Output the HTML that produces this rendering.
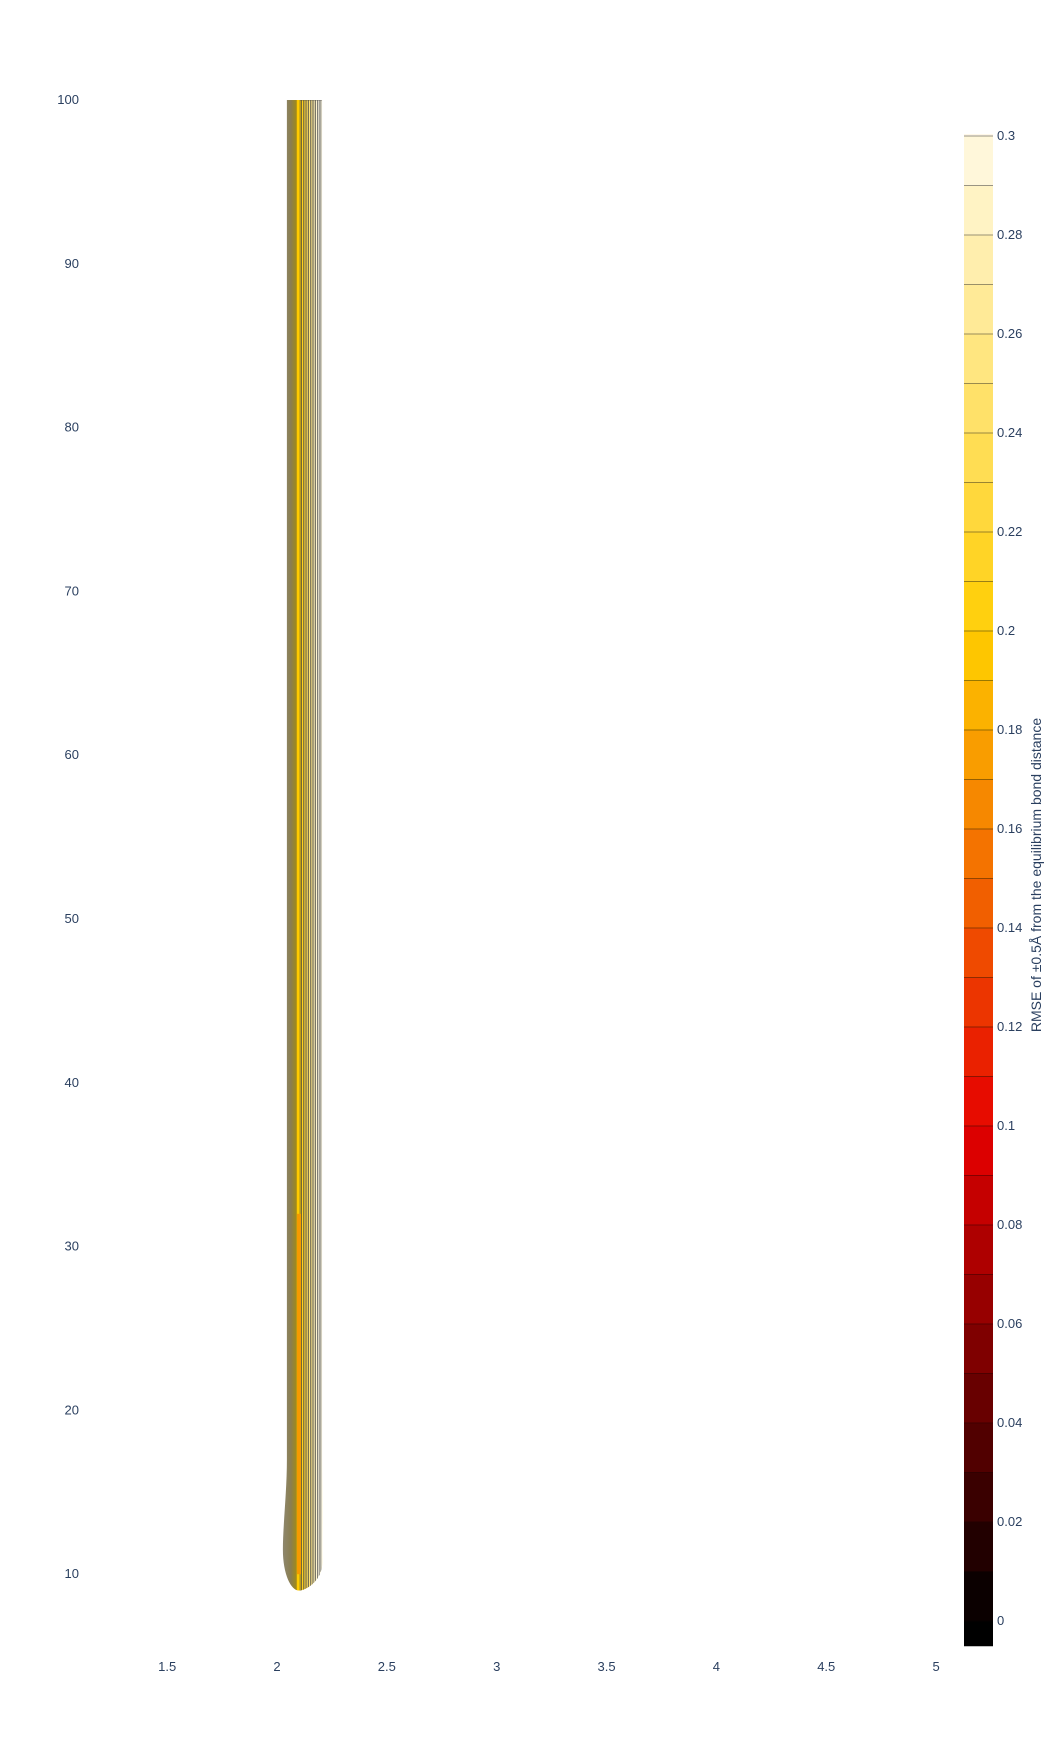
<!DOCTYPE html>
<html><head><meta charset="utf-8"><style>
body{margin:0;background:#fff;}
svg{font-family:"Liberation Sans",sans-serif;}
</style></head><body>
<svg id="chart" width="1064" height="1736" xmlns="http://www.w3.org/2000/svg"></svg>
<script>
const xTicks=[1.5,2,2.5,3,3.5,4,4.5,5];
const yTicks=[10,20,30,40,50,60,70,80,90,100];
const cbTicks=[0,0.02,0.04,0.06,0.08,0.1,0.12,0.14,0.16,0.18,0.2,0.22,0.24,0.26,0.28,0.3];
// contour stripes to the right of the valley (x position, level value)
const stripeX=[2.105,2.112,2.12,2.128,2.136,2.144,2.152,2.16,2.168,2.176,2.184,2.192,2.2];
const stripeV=[0.2,0.21,0.22,0.23,0.24,0.25,0.26,0.27,0.28,0.29,0.3,0.3,0.3];
const valleyX=2.1, leftX=2.045, rightX=2.205, yMinShape=9, yTop=100;
const NS="http://www.w3.org/2000/svg";
const svg=document.getElementById('chart');
const px=x=>277+(x-2)*219.7;
const py=y=>100+(100-y)*16.38;
const cy=v=>1621-v*4950;
function hot(v){const t=Math.max(0,Math.min(1,v/0.3));
 let r,g,b;
 if(t<0.33){r=t/0.33*230;g=0;b=0;}
 else if(t<0.66){r=230+(t-0.33)/0.33*25;g=(t-0.33)/0.33*205;b=0;}
 else {r=255;g=205+(t-0.66)/0.34*45;b=(t-0.66)/0.34*230;}
 return `rgb(${r|0},${g|0},${b|0})`;}
function mk(tag,attrs,name,txt){const e=document.createElementNS(NS,tag);for(const k in attrs)e.setAttribute(k,attrs[k]);
 
 
 if(txt!==undefined)e.textContent=txt;svg.appendChild(e);return e;}
xTicks.forEach(t=>mk('text',{x:px(t),y:1671,'font-size':13,fill:'#2a3f5f','text-anchor':'middle'},'x-tick-label',String(t)));
yTicks.forEach(t=>mk('text',{x:79,y:py(t)+4,'font-size':13,fill:'#2a3f5f','text-anchor':'end'},'y-tick-label',String(t)));
const defs=document.createElementNS(NS,'defs');svg.appendChild(defs);
const L=px(leftX),R=px(rightX),V=px(valleyX),T=py(yTop),B=py(yMinShape);
defs.innerHTML=`<clipPath id="cp"><path d="M${L},${T} L${R},${T} L${R},${py(18)} C${R},${py(14)} ${R+1},${py(11)} ${R},${py(10.5)} C${R-2},${py(9.5)} ${V+6},${B} ${V},${B} C${V-8},${B} ${L-4},${py(10)} ${L-4},${py(11.5)} C${L-4},${py(13)} ${L},${py(15)} ${L},${py(17)} Z"/></clipPath>
<linearGradient id="lg" x1="0" x2="1"><stop offset="0" stop-color="#8e8872"/><stop offset="0.2" stop-color="#8a7e50"/><stop offset="0.32" stop-color="#a08a1a"/><stop offset="0.34" stop-color="#ffc800"/><stop offset="0.4" stop-color="#ffd000"/><stop offset="1" stop-color="#fff0b0"/></linearGradient>`;
const g=document.createElementNS(NS,'g');g.setAttribute('clip-path','url(#cp)');


svg.appendChild(g);
const bg=document.createElementNS(NS,'rect');
bg.setAttribute('x',L-5);bg.setAttribute('y',T);bg.setAttribute('width',R-L+10);bg.setAttribute('height',B-T);bg.setAttribute('fill','url(#lg)');


g.appendChild(bg);
stripeX.forEach((x,i)=>{const r=document.createElementNS(NS,'rect');
 const x0=px(x), x1=i+1<stripeX.length?px(stripeX[i+1]):R+2;
 r.setAttribute('x',x0);r.setAttribute('y',T);r.setAttribute('width',Math.max(0.5,x1-x0));r.setAttribute('height',B-T);
 r.setAttribute('fill',hot(stripeV[i]));r.setAttribute('stroke','#444');r.setAttribute('stroke-width','0.6');
 
 
 g.appendChild(r);});
const vl=document.createElementNS(NS,'rect');
vl.setAttribute('x',V-2);vl.setAttribute('y',py(32));vl.setAttribute('width',4);vl.setAttribute('height',py(10)-py(32));vl.setAttribute('fill','#f59a00');


g.appendChild(vl);
for(let v=-0.01;v<0.3;v+=0.01){const lo=Math.max(v,-0.005),hi=Math.min(v+0.01,0.3);
 mk('rect',{x:964,y:cy(hi),width:29,height:cy(lo)-cy(hi)+0.5,fill:hot(Math.max(0,v+0.005))},'colorbar-band');}
mk('rect',{x:964,y:134,width:29,height:2,fill:'#fff8e8'},'colorbar-cap');
for(let k=0;k<=30;k++)mk('line',{x1:964,x2:993,y1:cy(k*0.01),y2:cy(k*0.01),stroke:'rgba(0,0,0,0.4)','stroke-width':1},'colorbar-level-line');
cbTicks.forEach(t=>mk('text',{x:997,y:cy(t)+4,'font-size':13,fill:'#2a3f5f'},'colorbar-tick-label',String(t)));
mk('text',{x:1041,y:875,'font-size':14,fill:'#2a3f5f','text-anchor':'middle',transform:'rotate(-90 1041 875)'},'colorbar-title','RMSE of ±0.5Å from the equilibrium bond distance');
</script>
</body></html>
